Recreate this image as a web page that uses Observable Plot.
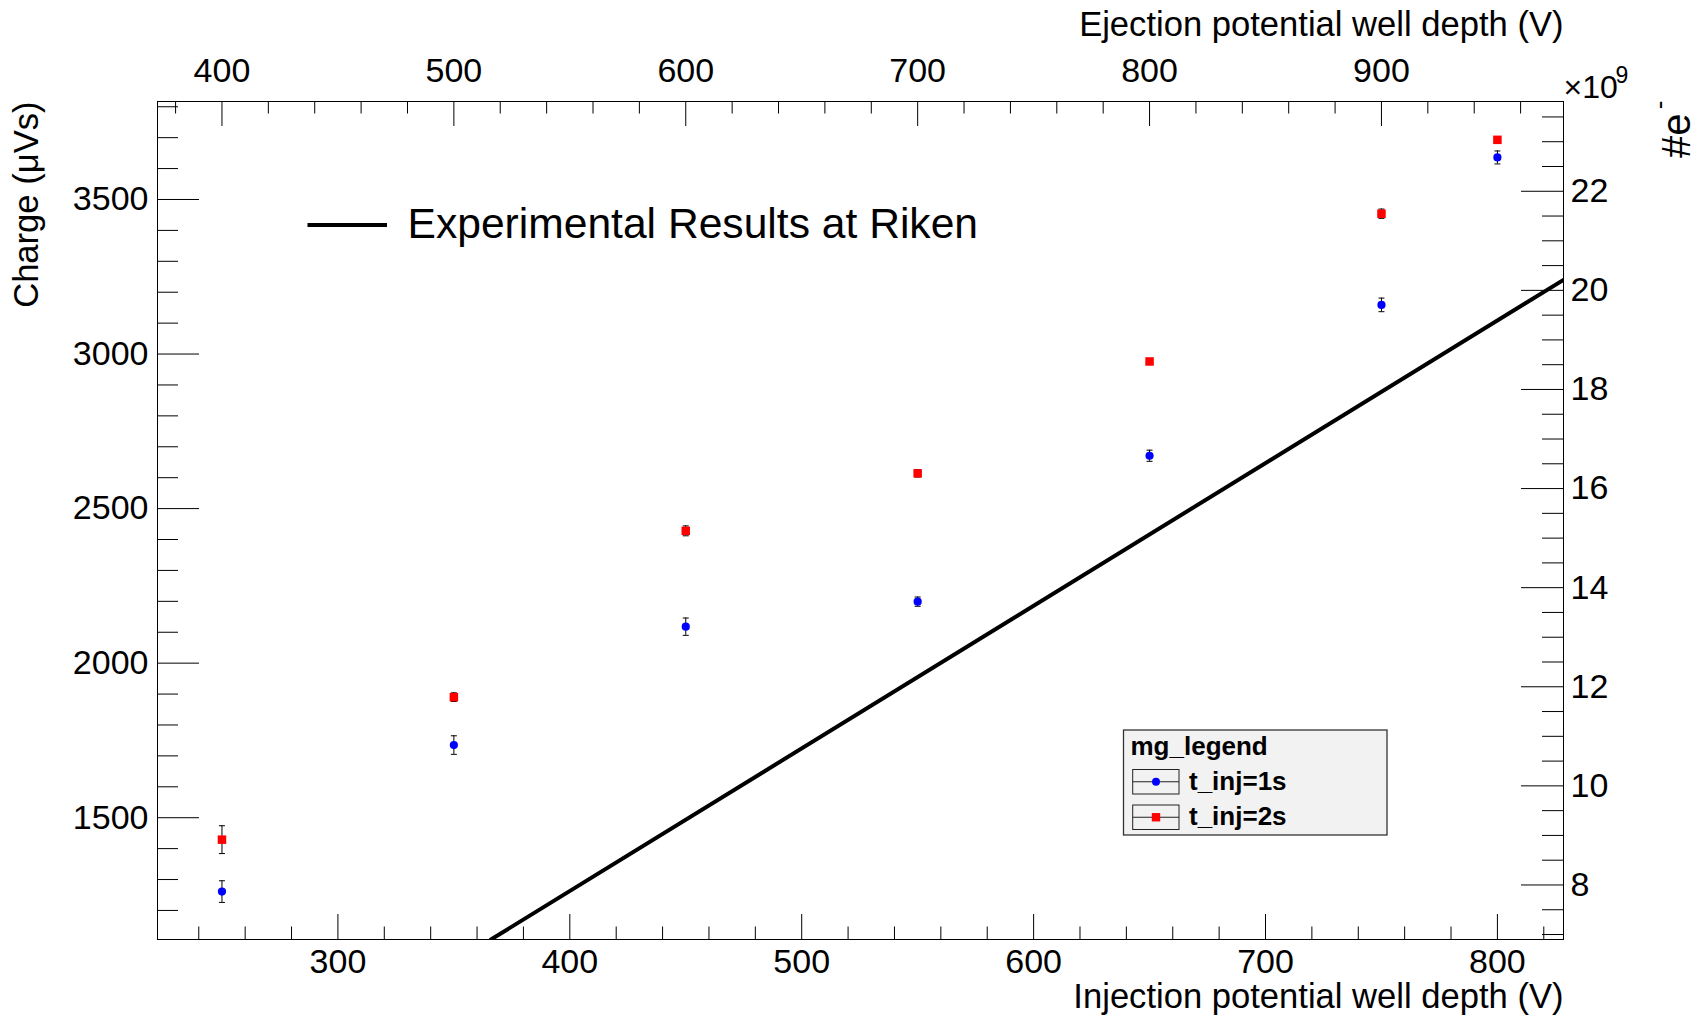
<!DOCTYPE html>
<html><head><meta charset="utf-8">
<script src="https://cdn.jsdelivr.net/npm/d3@7"></script>
<script src="https://cdn.jsdelivr.net/npm/@observablehq/plot@0.6"></script>
<style>
html,body{margin:0;padding:0;background:#fff;overflow:hidden;}
svg{display:block;}
</style>
</head><body><div id="chart"></div>
<script>
// ---- data ----
const injectionV = [250, 350, 450, 550, 650, 750, 800];
const charge1s = [1261, 1735, 2118, 2199, 2671, 3159, 3636];
const err1s    = [35, 30, 28, 15, 18, 22, 21];
const charge2s = [1429, 1890, 2428, 2614, 2976, 3454, 3693];
const err2s    = [45, 14, 16, 12, 7, 15, 6];
const rikenV = [366, 828.5];
const rikenCharge = [1106, 3240];

// ---- axis ticks ----
const bottomMajor = [300, 400, 500, 600, 700, 800];
const bottomMinor = [240, 260, 280, 320, 340, 360, 380, 420, 440, 460, 480, 520, 540, 560, 580, 620, 640, 660, 680, 720, 740, 760, 780, 820];
const topMajor = [400, 500, 600, 700, 800, 900];
const topMinor = [380, 420, 440, 460, 480, 520, 540, 560, 580, 620, 640, 660, 680, 720, 740, 760, 780, 820, 840, 860, 880, 920, 940, 960];
const leftMajor = [1500, 2000, 2500, 3000, 3500];
const leftMinor = [1200, 1300, 1400, 1600, 1700, 1800, 1900, 2100, 2200, 2300, 2400, 2600, 2700, 2800, 2900, 3100, 3200, 3300, 3400, 3600, 3700, 3800];
const rightMajor = [8, 10, 12, 14, 16, 18, 20, 22];
const rightMinor = [7, 7.5, 8.5, 9, 9.5, 10.5, 11, 11.5, 12.5, 13, 13.5, 14.5, 15, 15.5, 16.5, 17, 17.5, 18.5, 19, 19.5, 20.5, 21, 21.5, 22.5, 23, 23.5];
const ejectionOffset = 150;   // ejection depth = injection depth + 150 V
const chargePerE9 = 160.3;    // μVs per 10^9 electrons

const xDomain = [222.2, 828.5];
const yDomain = [1106, 3817];

const seriesNames = ["t_inj=1s", "t_inj=2s"];
const legendTitle = "mg_legend";
const rikenLabel = "Experimental Results at Riken";

// ---- build rows ----
const s1 = injectionV.map((v, i) => ({v, c: charge1s[i], e: err1s[i]}));
const s2 = injectionV.map((v, i) => ({v, c: charge2s[i], e: err2s[i]}));
const riken = rikenV.map((v, i) => ({v, c: rikenCharge[i]}));

const W = 1704, H = 1018;
const mL = 157, mR = 141, mT = 101, mB = 79;
const pw = W - mL - mR, ph = H - mT - mB;
const FONT = "'Liberation Sans', Arial, Helvetica, sans-serif";
const FS = 34;
const FT = 34.6;

const capSymbol = {draw(ctx) { ctx.moveTo(-3, 0); ctx.lineTo(3, 0); }};

const plot = Plot.plot({
  width: W, height: H,
  marginLeft: mL, marginRight: mR, marginTop: mT, marginBottom: mB,
  style: {fontFamily: FONT, fontSize: FS + "px", background: "#fff", color: "#000"},
  x: {domain: xDomain, axis: null},
  y: {domain: yDomain, axis: null},
  marks: [
    Plot.frame({stroke: "#000", strokeWidth: 1}),
    // ticks
    Plot.tickY(leftMajor, {y: d => d, insetRight: pw - 42, stroke: "#000"}),
    Plot.tickY(leftMinor, {y: d => d, insetRight: pw - 21, stroke: "#000"}),
    Plot.tickY(rightMajor, {y: d => d * chargePerE9, insetLeft: pw - 42, stroke: "#000"}),
    Plot.tickY(rightMinor, {y: d => d * chargePerE9, insetLeft: pw - 21, stroke: "#000"}),
    Plot.tickX(bottomMajor, {x: d => d, insetTop: ph - 25, stroke: "#000"}),
    Plot.tickX(bottomMinor, {x: d => d, insetTop: ph - 12.5, stroke: "#000"}),
    Plot.tickX(topMajor, {x: d => d - ejectionOffset, insetBottom: ph - 25, stroke: "#000"}),
    Plot.tickX(topMinor, {x: d => d - ejectionOffset, insetBottom: ph - 12.5, stroke: "#000"}),
    // tick labels
    Plot.text(bottomMajor, {x: d => d, text: d => String(d), frameAnchor: "bottom", lineAnchor: "top", dy: 9, fontSize: FS}),
    Plot.text(topMajor, {x: d => d - ejectionOffset, text: d => String(d), frameAnchor: "top", lineAnchor: "bottom", dy: -20, fontSize: FS}),
    Plot.text(leftMajor, {y: d => d, text: d => String(d), frameAnchor: "left", textAnchor: "end", dx: -9, fontSize: FS}),
    Plot.text(rightMajor, {y: d => d * chargePerE9, text: d => String(d), frameAnchor: "right", textAnchor: "start", dx: 7, fontSize: FS}),
    // axis titles
    Plot.text(["Injection potential well depth (V)"], {frameAnchor: "bottom-right", textAnchor: "end", lineAnchor: "bottom", dy: 68, fontSize: FT}),
    Plot.text(["Ejection potential well depth (V)"], {frameAnchor: "top-right", textAnchor: "end", lineAnchor: "bottom", dy: -66, fontSize: FT}),
    Plot.text(["Charge (μVs)"], {frameAnchor: "top-left", textAnchor: "end", lineAnchor: "bottom", rotate: -90, dx: -120, fontSize: FT}),
    Plot.text(["#e"], {frameAnchor: "top-right", textAnchor: "end", lineAnchor: "bottom", rotate: -90, dx: 126, dy: 12, fontSize: 40}),
    Plot.text(["-"], {frameAnchor: "top-right", textAnchor: "end", lineAnchor: "bottom", rotate: -90, dx: 104, dy: -1, fontSize: 26}),
    Plot.text(["×10"], {frameAnchor: "top-right", textAnchor: "start", lineAnchor: "bottom", dy: -4, fontSize: 32}),
    Plot.text(["9"], {frameAnchor: "top-right", textAnchor: "start", lineAnchor: "bottom", dx: 52, dy: -19, fontSize: 23}),
    // Riken line
    Plot.line(riken, {x: "v", y: "c", stroke: "#000", strokeWidth: 4, clip: true}),
    // error bars
    Plot.ruleX(s1, {x: "v", y1: d => d.c - d.e, y2: d => d.c + d.e, stroke: "#000", strokeWidth: 1}),
    Plot.ruleX(s2, {x: "v", y1: d => d.c - d.e, y2: d => d.c + d.e, stroke: "#000", strokeWidth: 1}),
    Plot.dot(s1, {x: "v", y: d => d.c + d.e, symbol: capSymbol, stroke: "#000", fill: "none", strokeWidth: 1}),
    Plot.dot(s1, {x: "v", y: d => d.c - d.e, symbol: capSymbol, stroke: "#000", fill: "none", strokeWidth: 1}),
    Plot.dot(s2, {x: "v", y: d => d.c + d.e, symbol: capSymbol, stroke: "#000", fill: "none", strokeWidth: 1}),
    Plot.dot(s2, {x: "v", y: d => d.c - d.e, symbol: capSymbol, stroke: "#000", fill: "none", strokeWidth: 1}),
    // markers
    Plot.dot(s1, {x: "v", y: "c", r: 4.1, fill: "#0000ff", stroke: null}),
    Plot.dot(s2, {x: "v", y: "c", symbol: "square", r: 4.8, fill: "#ff0000", stroke: null})
  ]
});

document.getElementById("chart").appendChild(plot);

// ---- legends ----
const svg = d3.select(plot);
const lg = svg.append("g").attr("font-family", FONT).attr("text-anchor", "start");
// Riken legend (top-left)
lg.append("line").attr("x1", 307.5).attr("x2", 387).attr("y1", 225).attr("y2", 225)
  .attr("stroke", "#000").attr("stroke-width", 4);
lg.append("text").attr("x", 407.5).attr("y", 238).attr("font-size", 42.6).attr("fill", "#000").text(rikenLabel);

// mg_legend box
const bx = 1123.5, by = 730, bw = 263.5, bh = 105;
lg.append("rect").attr("x", bx).attr("y", by).attr("width", bw).attr("height", bh)
  .attr("fill", "#f2f2f2").attr("stroke", "#333").attr("stroke-width", 1.3);
lg.append("text").attr("x", 1130.5).attr("y", 754.5).attr("font-size", 26).attr("font-weight", "bold").attr("fill", "#000").text(legendTitle);
const entries = [{y: 769.5, color: "#0000ff", sym: "circle"}, {y: 805, color: "#ff0000", sym: "square"}];
entries.forEach((e, i) => {
  const h = 24.5, cy = e.y + h / 2;
  lg.append("rect").attr("x", 1132.7).attr("y", e.y).attr("width", 46.3).attr("height", h)
    .attr("fill", "none").attr("stroke", "#222").attr("stroke-width", 1);
  lg.append("line").attr("x1", 1132.7).attr("x2", 1179).attr("y1", cy).attr("y2", cy).attr("stroke", "#222").attr("stroke-width", 1);
  if (e.sym === "circle") lg.append("circle").attr("cx", 1156).attr("cy", cy).attr("r", 4).attr("fill", e.color);
  else lg.append("rect").attr("x", 1156 - 4.2).attr("y", cy - 4.2).attr("width", 8.4).attr("height", 8.4).attr("fill", e.color);
  lg.append("text").attr("x", 1189).attr("y", e.y + 20).attr("font-size", 26).attr("font-weight", "bold").attr("fill", "#000").text(seriesNames[i]);
});
</script>
</body></html>
